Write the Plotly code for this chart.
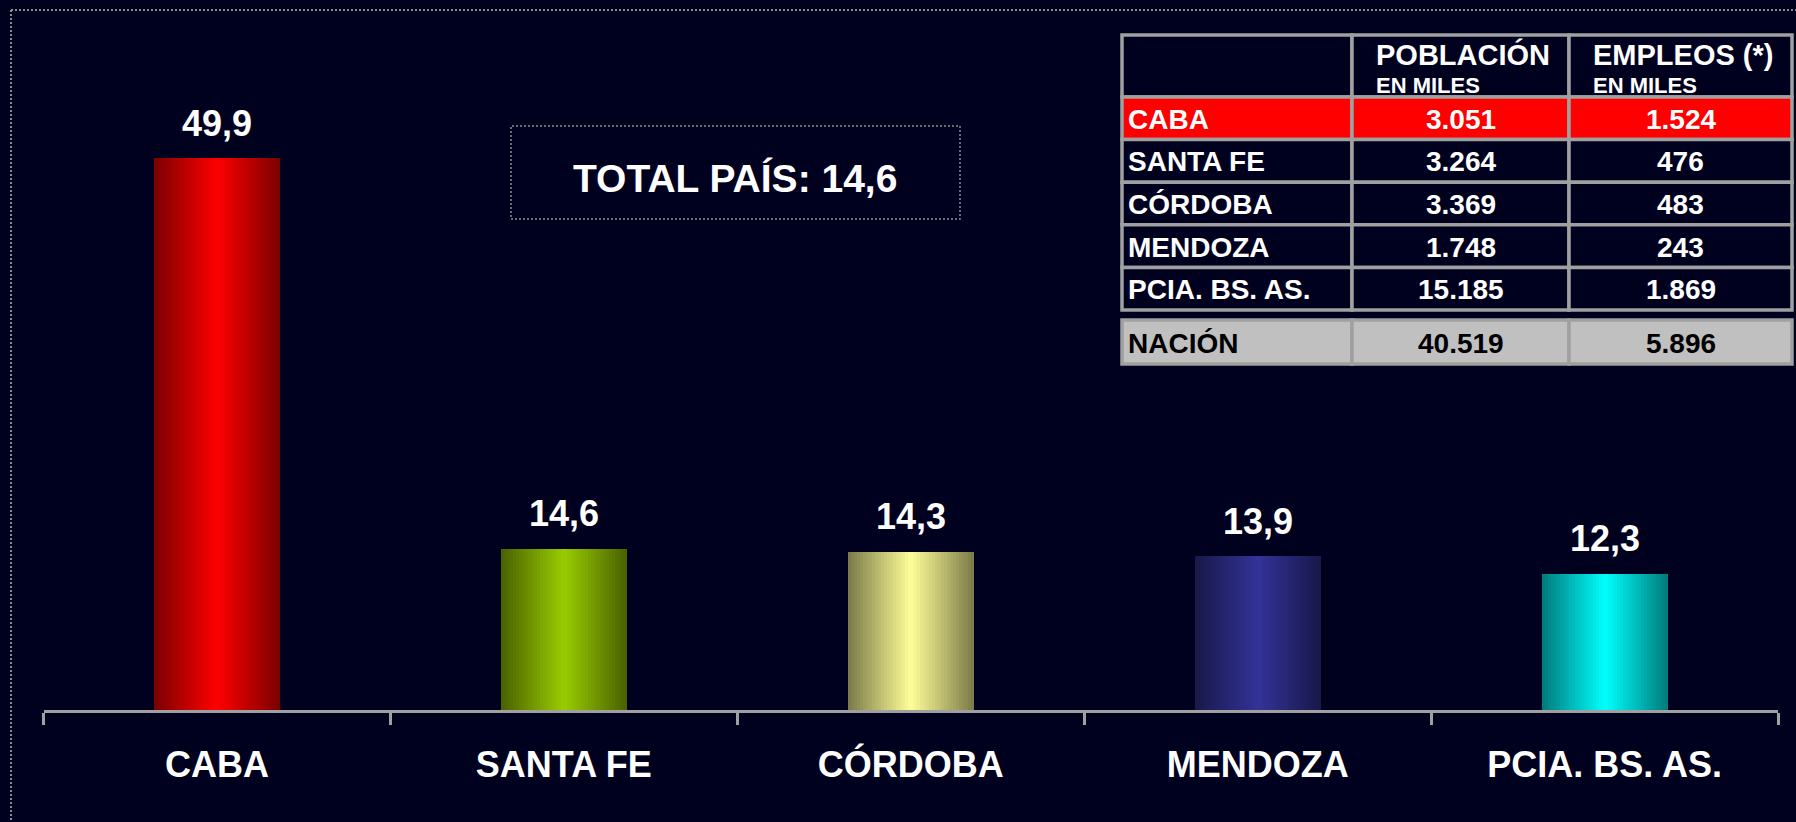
import plotly.graph_objects as go

# ---------------- data ----------------
categories = ["CABA", "SANTA FE", "CÓRDOBA", "MENDOZA", "PCIA. BS. AS."]
ratios = [49.9, 14.6, 14.3, 13.9, 12.3]
total_pais = 14.6

table_rows = ["CABA", "SANTA FE", "CÓRDOBA", "MENDOZA", "PCIA. BS. AS."]
poblacion_miles = [3051, 3264, 3369, 1748, 15185]
empleos_miles = [1524, 476, 483, 243, 1869]
nacion_label = "NACIÓN"
nacion_poblacion = 40519
nacion_empleos = 5896
header_titles = ["", "POBLACIÓN", "EMPLEOS (*)"]
header_subtitles = ["", "EN MILES", "EN MILES"]

# ---------------- style ----------------
W, H = 1796, 822
BG = "#00001f"
GRAY = "#a0a0a0"
FONT = "Liberation Sans, Arial, Helvetica, sans-serif"
bar_colors = [(255, 0, 0), (153, 204, 0), (255, 255, 153), (51, 51, 153), (0, 255, 255)]


def px(x):
    return x / W


def py(y):
    return 1 - y / H


def dec(v):
    return f"{v:.1f}".replace(".", ",")


def miles(v):
    return f"{v:,}".replace(",", ".")


fig = go.Figure()

# gradient bars: many thin slices of the same bar
BAR_W = 0.363
N = 42
step = BAR_W / N
for i in range(N):
    t = (i + 0.5) / N
    f = 1 - abs(2 * t - 1)
    k = 0.48 + 0.52 * f
    cols = [f"rgb({int(r*k)},{int(g*k)},{int(b*k)})" for (r, g, b) in bar_colors]
    w = step * 1.35 if i < N - 1 else step
    fig.add_trace(go.Bar(
        x=categories, y=ratios,
        offset=-BAR_W / 2 + i * step, width=w,
        marker=dict(color=cols, line=dict(width=0)),
        hoverinfo="skip", showlegend=False,
    ))

# value labels
for c, v in zip(categories, ratios):
    fig.add_annotation(x=c, y=v, xref="x", yref="y", text=f"<b>{dec(v)}</b>",
                       showarrow=False, yshift=35, yanchor="middle", xanchor="center",
                       font=dict(family=FONT, size=36, color="white"))

shapes = []
annotations = []

# dotted frame (top + left)
shapes.append(dict(type="line", xref="paper", yref="paper", x0=px(11), x1=px(1800), y0=py(10), y1=py(10),
                   line=dict(color="#8c8c8c", width=2, dash="2px,2px")))
shapes.append(dict(type="line", xref="paper", yref="paper", x0=px(11), x1=px(11), y0=py(10), y1=py(830),
                   line=dict(color="#8c8c8c", width=2, dash="2px,2px")))

# total box
shapes.append(dict(type="rect", xref="paper", yref="paper", x0=px(511), x1=px(960), y0=py(219), y1=py(126),
                   line=dict(color="#8c8c8c", width=1.5, dash="2px,2px")))
annotations.append(dict(xref="paper", yref="paper", x=px(735), y=py(178), showarrow=False,
                        xanchor="center", yanchor="middle",
                        text=f"<b>TOTAL PAÍS: {dec(total_pais)}</b>",
                        font=dict(family=FONT, size=39, color="white")))

# table
X = [1122, 1352, 1569, 1792]
HEAD_T, HEAD_B = 35, 97
ROW_H = 42.6
NAC_T, NAC_B = 320, 364


def cell(x0, x1, y0, y1, fill):
    shapes.append(dict(type="rect", xref="paper", yref="paper", x0=px(x0), x1=px(x1), y0=py(y1), y1=py(y0),
                       fillcolor=fill, line=dict(color=GRAY, width=3.5)))


def txt(x, y, s, size, color, anchor):
    annotations.append(dict(xref="paper", yref="paper", x=px(x), y=py(y), showarrow=False,
                            xanchor=anchor, yanchor="middle", text=f"<b>{s}</b>",
                            font=dict(family=FONT, size=size, color=color)))


for j in range(3):
    cell(X[j], X[j + 1], HEAD_T, HEAD_B, BG)
    if header_titles[j]:
        txt(X[j] + 22, 55, header_titles[j], 29, "white", "left")
        txt(X[j] + 22, 86, header_subtitles[j], 22, "white", "left")

for r, (lab, p, e) in enumerate(zip(table_rows, poblacion_miles, empleos_miles)):
    y0 = HEAD_B + r * ROW_H
    y1 = y0 + ROW_H
    fill = "#ff0000" if r == 0 else BG
    for j in range(3):
        cell(X[j], X[j + 1], y0, y1, fill)
    yc = (y0 + y1) / 2 + 1
    txt(X[0] + 4, yc, lab, 28, "white", "left")
    txt((X[1] + X[2]) / 2, yc, miles(p), 28, "white", "center")
    txt((X[2] + X[3]) / 2, yc, miles(e), 28, "white", "center")

for j in range(3):
    cell(X[j], X[j + 1], NAC_T, NAC_B, "#c0c0c0")
yc = (NAC_T + NAC_B) / 2 + 2
txt(X[0] + 4, yc, nacion_label, 28, "black", "left")
txt((X[1] + X[2]) / 2, yc, miles(nacion_poblacion), 28, "black", "center")
txt((X[2] + X[3]) / 2, yc, miles(nacion_empleos), 28, "black", "center")

PX_PER_UNIT = 11.06
fig.update_layout(
    template="none",
    width=W, height=H,
    margin=dict(l=0, r=0, t=0, b=0, pad=0),
    paper_bgcolor=BG, plot_bgcolor=BG,
    barmode="overlay", bargap=0,
    hovermode=False,
    showlegend=False,
    shapes=shapes,
    annotations=list(fig.layout.annotations) + annotations,
    xaxis=dict(domain=[px(43.5), px(1778)], range=[-0.5, 4.5], type="category",
               showgrid=False, zeroline=False,
               showline=True, linecolor=GRAY, linewidth=2.5,
               ticks="outside", tickson="boundaries", ticklen=12, tickwidth=2.5, tickcolor=GRAY,
               ticklabelstandoff=21,
               tickfont=dict(family=FONT, size=36, color="white", weight="bold")),
    yaxis=dict(domain=[py(710), py(36)], range=[0, (710 - 36) / PX_PER_UNIT],
               visible=False, showgrid=False, zeroline=False),
)

fig.write_html(
    "out.html",
    config={"displayModeBar": False},
    post_script="document.body.style.margin='0';document.body.style.overflow='hidden';"
                "document.documentElement.style.background='" + BG + "';",
)
